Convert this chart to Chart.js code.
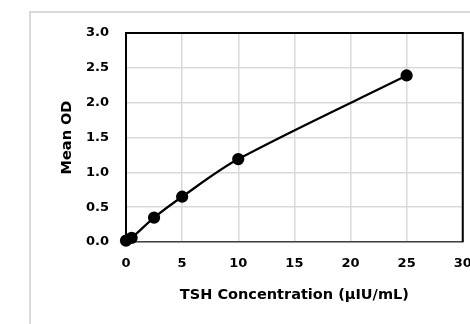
<!DOCTYPE html>
<html>
<head>
<meta charset="utf-8">
<script src="https://cdn.jsdelivr.net/npm/chart.js@4"></script>
<style>
    html, body { margin: 0; padding: 0; background: #fff; }
    #wrap { position: relative; width: 470px; height: 324px; overflow: hidden; }
    #frame { position: absolute; left: 29px; top: 11px; width: 470px; height: 340px;
             border-left: 2px solid #d9d9d9; border-top: 2px solid #d9d9d9; }
    #stdCurve { position: absolute; left: 0; top: 0; }
</style>
</head>
<body>
<div id="wrap">
    <div id="frame"></div>
    <canvas id="stdCurve" width="470" height="324"></canvas>
</div>
<script>
// TSH standards (uIU/mL) and the mean OD read for each
const concentrations = [0, 0.5, 2.5, 5, 10, 25];
const meanOD = [0.02, 0.06, 0.35, 0.65, 1.19, 2.39];

const xTicks = [0, 5, 10, 15, 20, 25, 30];
const yTicks = [0, 0.5, 1.0, 1.5, 2.0, 2.5, 3.0];

const tickFont = { family: "'DejaVu Sans', sans-serif", size: 13, weight: "bold" };
const titleFont = { family: "'DejaVu Sans', sans-serif", size: 14.5, weight: "bold" };

// black box on top and right of the plot, like the excel chart
const plotFrame = {
    id: "plotFrame",
    afterDraw(chart) {
        const { ctx, chartArea: a } = chart;
        ctx.save();
        ctx.strokeStyle = "#000";
        ctx.lineWidth = 2;
        ctx.beginPath();
        ctx.moveTo(a.left, a.top);
        ctx.lineTo(a.right, a.top);
        ctx.lineTo(a.right, a.bottom);
        ctx.stroke();
        ctx.restore();
    }
};

const ctx = document.getElementById("stdCurve").getContext("2d");
new Chart(ctx, {
    type: "scatter",
    data: {
        datasets: [{
            data: concentrations.map((c, i) => ({ x: c, y: meanOD[i] })),
            showLine: true,
            borderColor: "#000",
            backgroundColor: "#000",
            borderWidth: 2.25,
            pointRadius: 5,
            pointHoverRadius: 5,
            tension: 0.3,
            clip: false
        }]
    },
    options: {
        responsive: false,
        animation: false,
        events: [],
        layout: { padding: { left: 0, top: 33, right: 6, bottom: 0 } },
        plugins: { legend: { display: false }, tooltip: { enabled: false } },
        scales: {
            x: {
                type: "linear",
                min: 0,
                max: 30,
                afterBuildTicks: s => { s.ticks = xTicks.map(v => ({ value: v })); },
                afterFit: s => { s.height = 82; s.paddingLeft = 0; s.paddingRight = 0; },
                grid: { color: "#d9d9d9", lineWidth: 1.5, drawTicks: false },
                border: { color: "#404040", width: 1.5 },
                ticks: { color: "#000", font: tickFont, padding: 14, maxRotation: 0 },
                title: { display: true, text: "TSH Concentration (µIU/mL)", color: "#000",
                         font: titleFont, padding: { top: 0, bottom: 20 } }
            },
            y: {
                type: "linear",
                min: 0,
                max: 3,
                afterBuildTicks: s => { s.ticks = yTicks.map(v => ({ value: v })); },
                afterFit: s => { s.width = 126; s.paddingTop = 0; s.paddingBottom = 0; },
                grid: { color: "#d9d9d9", lineWidth: 1.5, drawTicks: false },
                border: { color: "#000", width: 2 },
                ticks: { color: "#000", font: tickFont, padding: 17,
                         callback: v => v.toFixed(1) },
                title: { display: true, text: "Mean OD", color: "#000",
                         font: titleFont, padding: { top: 59, bottom: 0 } }
            }
        }
    },
    plugins: [plotFrame]
});
</script>
</body>
</html>
